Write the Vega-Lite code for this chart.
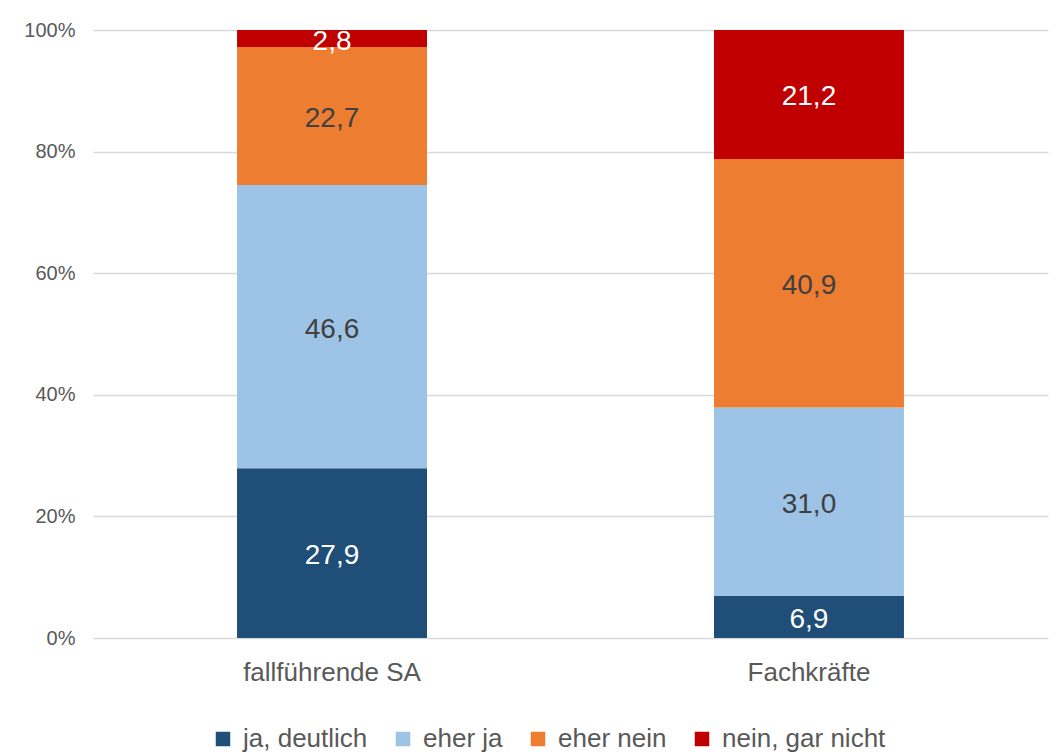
{
  "$schema": "https://vega.github.io/schema/vega-lite/v6.json",
  "autosize": "none",
  "width": 955,
  "height": 608,
  "padding": {"left": 93, "top": 30, "right": 13, "bottom": 116},
  "background": "white",
  "config": {
    "font": "Liberation Sans",
    "view": {"stroke": null},
    "locale": {"number": {"decimal": ",", "thousands": ".", "grouping": [3], "currency": ["", " €"]}}
  },
  "data": {
    "values": [
      {"group": "fallführende SA", "cat": "ja, deutlich", "ord": 1, "value": 27.9},
      {"group": "fallführende SA", "cat": "eher ja", "ord": 2, "value": 46.6},
      {"group": "fallführende SA", "cat": "eher nein", "ord": 3, "value": 22.7},
      {"group": "fallführende SA", "cat": "nein, gar nicht", "ord": 4, "value": 2.8},
      {"group": "Fachkräfte", "cat": "ja, deutlich", "ord": 1, "value": 6.9},
      {"group": "Fachkräfte", "cat": "eher ja", "ord": 2, "value": 31.0},
      {"group": "Fachkräfte", "cat": "eher nein", "ord": 3, "value": 40.9},
      {"group": "Fachkräfte", "cat": "nein, gar nicht", "ord": 4, "value": 21.2}
    ]
  },
  "transform": [
    {"stack": "value", "groupby": ["group"], "sort": [{"field": "ord", "order": "ascending"}], "as": ["y0", "y1"]},
    {"calculate": "(datum.y0 + datum.y1) / 2", "as": "ymid"}
  ],
  "encoding": {
    "x": {
      "field": "group", "type": "nominal", "sort": ["fallführende SA", "Fachkräfte"],
      "scale": {"paddingInner": 0.6017, "paddingOuter": 0.302},
      "axis": {"title": null, "labelAngle": 0, "labelFontSize": 26, "labelLimit": 0, "labelColor": "#595959", "labelPadding": 21, "ticks": false, "domain": false}
    }
  },
  "layer": [
    {
      "mark": {"type": "bar"},
      "encoding": {
        "y": {
          "field": "y0", "type": "quantitative",
          "scale": {"domain": [0, 100]},
          "axis": {"title": null, "values": [0, 20, 40, 60, 80, 100], "labelExpr": "datum.value + '%'", "labelFontSize": 20, "labelColor": "#595959", "labelPadding": 18, "ticks": false, "domain": false, "gridColor": "#d9d9d9", "gridWidth": 1.5}
        },
        "y2": {"field": "y1"},
        "color": {
          "field": "cat", "type": "nominal",
          "scale": {"domain": ["ja, deutlich", "eher ja", "eher nein", "nein, gar nicht"], "range": ["#1F4E79", "#9DC3E6", "#ED7D31", "#C00000"]},
          "legend": {"title": null, "orient": "none", "legendX": 117, "legendY": 696, "padding": 0, "direction": "horizontal", "symbolType": "square", "symbolSize": 210, "symbolStrokeWidth": 0, "labelFontSize": 26, "labelLimit": 0, "labelColor": "#595959", "columnPadding": 22, "labelOffset": 7}
        }
      }
    },
    {
      "mark": {"type": "text", "fontSize": 28, "baseline": "middle", "align": "center", "dy": 3},
      "encoding": {
        "y": {"field": "ymid", "type": "quantitative"},
        "text": {"field": "value", "type": "quantitative", "format": ".1f"},
        "color": {"condition": {"test": "datum.cat === 'eher ja' || datum.cat === 'eher nein'", "value": "#404040"}, "value": "white"}
      }
    }
  ]
}
